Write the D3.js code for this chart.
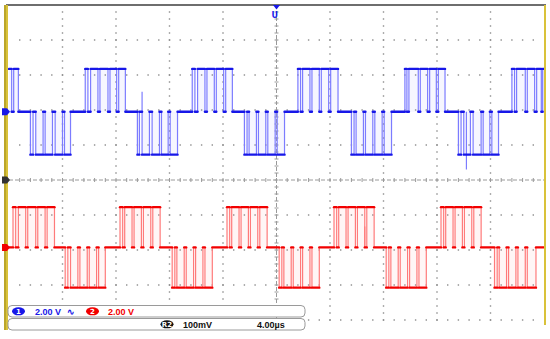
<!DOCTYPE html>
<html>
<head>
<meta charset="utf-8">
<script src="https://cdn.jsdelivr.net/npm/d3@7"></script>
<style>
  html, body { margin: 0; padding: 0; background: #fff; }
  svg { display: block; }
</style>
</head>
<body>
<svg id="scope"></svg>
<script>
const width = 550, height = 339;

// Scope settings
const ch1Label = "2.00 V";
const ch2Label = "2.00 V";
const refLabel = "100mV";
const timeLabel = "4.00\u00b5s";

// Channel positions on screen (V) and PWM level amplitude (V)
const ch1Offset = 3.9;
const ch2Offset = -3.85;
const ch1Amplitude = 2.45;
const ch2Amplitude = 2.3;

// Channel 1 (blue): [time µs, level] steps, level holds until next step
const ch1Steps = [
  [-20, 1], [-19.8, 0], [-19.65, 1], [-19.3, 0],
  [-18.4, -1], [-18.2, 0], [-18.0, -1], [-17.45, 0], [-17.3, -1], [-16.75, 0], [-16.55, -1], [-16.0, 0], [-15.85, -1], [-15.4, 0],
  [-14.3, 1], [-14.1, 0], [-13.9, 1], [-13.35, 0], [-13.2, 1], [-12.6, 0], [-12.45, 1], [-11.95, 0], [-11.8, 1], [-11.3, 0],
  [-10.4, -1], [-10.25, 0], [-10.05, -1], [-9.5, 0], [-9.3, -1], [-8.75, 0], [-8.6, -1], [-8.1, 0], [-7.95, -1], [-7.4, 0],
  [-6.3, 1], [-6.1, 0], [-5.9, 1], [-5.35, 0], [-5.2, 1], [-4.65, 0], [-4.5, 1], [-3.95, 0], [-3.8, 1], [-3.3, 0],
  [-2.4, -1], [-2.2, 0], [-2.05, -1], [-1.5, 0], [-1.35, -1], [-0.8, 0], [-0.65, -1], [-0.1, 0], [0.05, -1], [0.6, 0],
  [1.6, 1], [1.8, 0], [1.95, 1], [2.5, 0], [2.65, 1], [3.2, 0], [3.35, 1], [3.9, 0], [4.05, 1], [4.6, 0],
  [5.6, -1], [5.8, 0], [5.95, -1], [6.5, 0], [6.65, -1], [7.2, 0], [7.35, -1], [7.9, 0], [8.05, -1], [8.6, 0],
  [9.6, 1], [9.75, 0], [9.9, 1], [10.6, 0], [10.75, 1], [11.3, 0], [11.45, 1], [11.95, 0], [12.1, 1], [12.6, 0],
  [13.6, -1], [13.8, 0], [14.0, -1], [14.5, 0], [14.7, -1], [15.3, 0], [15.45, -1], [15.95, 0], [16.1, -1], [16.6, 0],
  [17.6, 1], [17.8, 0], [17.95, 1], [18.6, 0], [18.75, 1], [19.3, 0], [19.45, 1], [19.8, 0], [19.9, 1]
];

// Channel 2 (red)
const ch2Steps = [
  [-20, 0],
  [-19.7, 1], [-19.5, 0], [-19.3, 1], [-18.75, 0], [-18.6, 1], [-18.0, 0], [-17.85, 1], [-17.3, 0], [-17.15, 1], [-16.6, 0],
  [-15.8, -1], [-15.6, 0], [-15.4, -1], [-14.85, 0], [-14.7, -1], [-14.15, 0], [-14.0, -1], [-13.45, 0], [-13.3, -1], [-12.8, 0],
  [-11.7, 1], [-11.5, 0], [-11.35, 1], [-10.8, 0], [-10.65, 1], [-10.1, 0], [-9.95, 1], [-9.4, 0], [-9.25, 1], [-8.7, 0],
  [-7.8, -1], [-7.6, 0], [-7.45, -1], [-6.9, 0], [-6.75, -1], [-6.2, 0], [-6.05, -1], [-5.5, 0], [-5.35, -1], [-4.8, 0],
  [-3.7, 1], [-3.5, 0], [-3.35, 1], [-2.8, 0], [-2.65, 1], [-2.1, 0], [-1.95, 1], [-1.4, 0], [-1.25, 1], [-0.7, 0],
  [0.2, -1], [0.4, 0], [0.55, -1], [1.1, 0], [1.25, -1], [1.8, 0], [1.95, -1], [2.5, 0], [2.65, -1], [3.2, 0],
  [4.3, 1], [4.5, 0], [4.65, 1], [5.2, 0], [5.35, 1], [5.9, 0], [6.05, 1], [6.6, 0], [6.75, 1], [7.3, 0],
  [8.2, -1], [8.4, 0], [8.55, -1], [9.1, 0], [9.25, -1], [9.8, 0], [9.95, -1], [10.5, 0], [10.65, -1], [11.2, 0],
  [12.3, 1], [12.5, 0], [12.65, 1], [13.2, 0], [13.35, 1], [13.9, 0], [14.05, 1], [14.6, 0], [14.75, 1], [15.3, 0],
  [16.3, -1], [16.5, 0], [16.65, -1], [17.2, 0], [17.35, -1], [17.9, 0], [18.05, -1], [18.6, 0], [18.75, -1], [19.4, 0]
];

// Short glitches: [time µs, tip voltage relative to channel position]
const ch1Spikes = [[-10.05, 1.15], [14.2, -3.3]];
const ch2Spikes = [[6.6, 1.2]];

const svg = d3.select("#scope")
  .attr("width", width)
  .attr("height", height)
  .attr("viewBox", [0, 0, width, height]);

// 10 x 4 µs horizontally, 2 V/div vertically
const xScale = d3.scaleLinear().domain([-20, 20]).range([9, 544]);
const yScale = d3.scaleLinear().domain([-10, 10]).range([355, 5]);
const yBottom = yScale(-8);

// Graticule dots
const grid = svg.append("g").attr("fill", "#8a8a8a");
const vDivs = [-16, -12, -8, -4, 4, 8, 12, 16];
const hDivs = [8, 6, 4, 2, -2, -4, -6, -8];
vDivs.forEach(t => {
  d3.range(9.6, -8.01, -0.4).forEach(v => {
    grid.append("rect").attr("x", xScale(t) - 0.7).attr("y", yScale(v) - 0.7)
      .attr("width", 1.4).attr("height", 1.4);
  });
});
hDivs.forEach(v => {
  d3.range(-19.2, 19.3, 0.8).forEach(t => {
    grid.append("rect").attr("x", xScale(t) - 0.7).attr("y", yScale(v) - 0.7)
      .attr("width", 1.4).attr("height", 1.4);
  });
});

// Center crosshair with minor ticks
const cross = svg.append("g").attr("stroke", "#9a9a9a").attr("stroke-width", 1);
cross.append("line").attr("x1", xScale(-20)).attr("x2", xScale(20))
  .attr("y1", yScale(0)).attr("y2", yScale(0)).attr("stroke-dasharray", "4,2");
cross.append("line").attr("x1", xScale(0)).attr("x2", xScale(0))
  .attr("y1", yScale(10)).attr("y2", yBottom).attr("stroke-dasharray", "4,2");
d3.range(-19.2, 19.3, 0.8).forEach(t => {
  cross.append("line").attr("x1", xScale(t)).attr("x2", xScale(t))
    .attr("y1", yScale(0) - 2).attr("y2", yScale(0) + 2);
});
d3.range(9.6, -8.01, -0.4).forEach(v => {
  cross.append("line").attr("x1", xScale(0) - 2).attr("x2", xScale(0) + 2)
    .attr("y1", yScale(v)).attr("y2", yScale(v));
});

// Waveforms
function drawChannel(steps, spikes, offset, amp, dark, light) {
  const g = svg.append("g");
  const yv = l => yScale(offset + l * amp);
  const segs = steps.map((s, i) => ({
    t0: s[0], t1: i < steps.length - 1 ? steps[i + 1][0] : 20, l: s[1]
  }));
  // persistence haze under pulses
  g.selectAll("rect.haze").data(segs.filter(d => d.l !== 0)).join("rect")
    .attr("x", d => xScale(d.t0))
    .attr("width", d => xScale(d.t1) - xScale(d.t0))
    .attr("y", d => Math.min(yv(d.l), yv(0)))
    .attr("height", d => Math.abs(yv(d.l) - yv(0)))
    .attr("fill", light).attr("opacity", 0.07);
  // edges
  g.selectAll("line.edge").data(steps.slice(1).map((s, i) => ({ t: s[0], a: steps[i][1], b: s[1] })))
    .join("line")
    .attr("x1", d => xScale(d.t)).attr("x2", d => xScale(d.t))
    .attr("y1", d => yv(d.a)).attr("y2", d => yv(d.b))
    .attr("stroke", light).attr("stroke-width", 1.2);
  g.selectAll("line.spike").data(spikes).join("line")
    .attr("x1", d => xScale(d[0])).attr("x2", d => xScale(d[0]))
    .attr("y1", yScale(offset)).attr("y2", d => yScale(offset + d[1]))
    .attr("stroke", light).attr("stroke-width", 1.2);
  // levels
  g.selectAll("line.level").data(segs).join("line")
    .attr("x1", d => xScale(d.t0)).attr("x2", d => xScale(d.t1))
    .attr("y1", d => yv(d.l)).attr("y2", d => yv(d.l))
    .attr("stroke", dark).attr("stroke-width", 2.4).attr("stroke-linecap", "round");
}
drawChannel(ch1Steps, ch1Spikes, ch1Offset, ch1Amplitude, "#1717e8", "#7c7cff");
drawChannel(ch2Steps, ch2Spikes, ch2Offset, ch2Amplitude, "#f20000", "#ff7a7a");

// Frame
svg.append("line").attr("x1", 6).attr("x2", 546).attr("y1", 5).attr("y2", 5)
  .attr("stroke", "#6e6e6e").attr("stroke-width", 2);
svg.append("rect").attr("x", 4).attr("y", 5).attr("width", 4).attr("height", 325).attr("fill", "#d9c23a");
svg.append("line").attr("x1", 5).attr("x2", 5).attr("y1", 5).attr("y2", 330)
  .attr("stroke", "#9c8a1c").attr("stroke-width", 1);
svg.append("line").attr("x1", 545).attr("x2", 545).attr("y1", 5).attr("y2", 325)
  .attr("stroke", "#d9c23a").attr("stroke-width", 2);

// Ground and trigger markers
function marker(y, fill) {
  svg.append("path")
    .attr("d", `M2,${y - 3.5} L7,${y - 3.5} L10,${y} L7,${y + 3.5} L2,${y + 3.5} Z`)
    .attr("fill", fill);
}
marker(yScale(ch1Offset), "#1717e8");
marker(yScale(0), "#333");
marker(yScale(ch2Offset), "#f20000");

svg.append("path")
  .attr("d", `M${xScale(0) - 3.5},5 L${xScale(0) + 3.5},5 L${xScale(0)},9.5 Z`)
  .attr("fill", "#1717e8");
svg.append("text").attr("x", xScale(0) - 5).attr("y", 17.5)
  .attr("font-family", "DejaVu Sans").attr("font-weight", "bold").attr("font-size", 8)
  .attr("fill", "#1717e8").text("U");

// Status bars
const bars = svg.append("g");
bars.append("rect").attr("x", 8).attr("y", 305.5).attr("width", 297).attr("height", 11.5)
  .attr("rx", 4).attr("fill", "#fff").attr("stroke", "#9a9a9a");
bars.append("rect").attr("x", 8).attr("y", 318.5).attr("width", 297).attr("height", 11.5)
  .attr("rx", 4).attr("fill", "#fff").attr("stroke", "#9a9a9a");

function badge(cx, cy, fill, label) {
  bars.append("ellipse").attr("cx", cx).attr("cy", cy).attr("rx", 6.5).attr("ry", 4)
    .attr("fill", fill);
  bars.append("text").attr("x", cx).attr("y", cy + 2.8).attr("text-anchor", "middle")
    .attr("font-family", "DejaVu Sans").attr("font-weight", "bold").attr("font-size", 7)
    .attr("fill", "#fff").text(label);
}
const txt = (x, y, fill, s) => bars.append("text").attr("x", x).attr("y", y)
  .attr("font-family", "Liberation Sans").attr("font-weight", "bold").attr("font-size", 9)
  .attr("fill", fill).text(s);

badge(18.5, 311.3, "#1717e8", "1");
txt(35, 314.5, "#1717e8", ch1Label);
txt(67, 314.5, "#1717e8", "\u223f");
badge(92.5, 311.3, "#f20000", "2");
txt(108, 314.5, "#f20000", ch2Label);
badge(167, 324.3, "#111", "R2");
txt(183, 327.5, "#111", refLabel);
txt(257, 327.5, "#111", timeLabel);
</script>
</body>
</html>
